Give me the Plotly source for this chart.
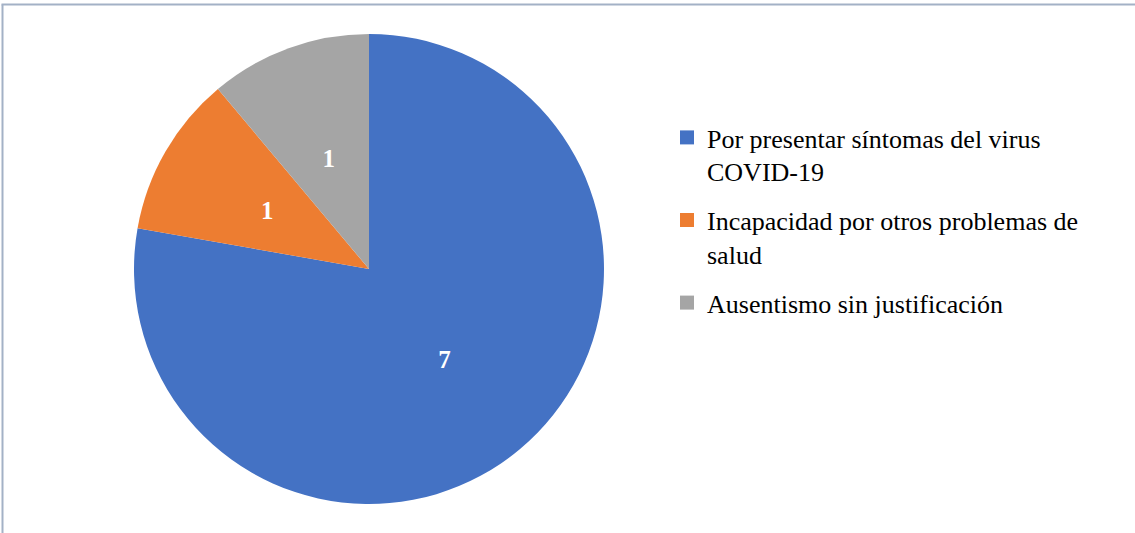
import plotly.graph_objects as go

labels = ["Por presentar síntomas del virus<br>COVID-19",
          "Incapacidad por otros problemas de<br>salud",
          "Ausentismo sin justificación"]
values = [7, 1, 1]
colors = ["#4472C4", "#ED7D31", "#A5A5A5"]

W, H = 1135, 533
cx, cy, R = 369, 269, 235
fig = go.Figure()
# main pie (label of the big slice)
fig.add_trace(go.Pie(
    labels=labels, values=values, sort=False, direction="clockwise", rotation=0,
    marker=dict(colors=colors, line=dict(width=0)),
    texttemplate=["<b>%{value}</b>", "", ""], textposition="inside",
    insidetextorientation="horizontal",
    textfont=dict(family="Liberation Serif", size=25, color="white"),
    domain=dict(x=[(cx - R) / W, (cx + R) / W], y=[1 - (cy + R) / H, 1 - (cy - R) / H]),
    hoverinfo="label+value", showlegend=False,
))
# transparent overlay pie carrying the labels of the small slices
r2 = R * 0.671
fig.add_trace(go.Pie(
    labels=labels, values=values, sort=False, direction="clockwise", rotation=0,
    marker=dict(colors=["rgba(0,0,0,0)"] * 3, line=dict(width=0)),
    texttemplate=["", "<b>%{value}</b>", "<b>%{value}</b>"], textposition="inside",
    insidetextorientation="horizontal",
    textfont=dict(family="Liberation Serif", size=25, color="white"),
    domain=dict(x=[(cx - r2) / W, (cx + r2) / W], y=[1 - (cy + r2) / H, 1 - (cy - r2) / H]),
    hoverinfo="skip", showlegend=False,
))
# legend entries
for lab, col in zip(labels, colors):
    fig.add_trace(go.Scatter(
        x=[None], y=[None], mode="markers", name=lab, legendgroup=lab,
        marker=dict(symbol="square", size=14, color=col), hoverinfo="skip",
    ))
fig.update_layout(
    width=W, height=H, margin=dict(l=0, r=0, t=0, b=0),
    paper_bgcolor="white", plot_bgcolor="white",
    showlegend=True,
    xaxis=dict(visible=False), yaxis=dict(visible=False),
    legend=dict(x=667 / W, y=1 - 114 / H, xanchor="left", yanchor="top",
                font=dict(family="Liberation Serif", size=26, color="#000000"),
                valign="top", itemwidth=30, tracegroupgap=12,
                traceorder="grouped"),
    shapes=[
        dict(type="line", xref="paper", yref="paper", x0=2.5 / W, x1=2.5 / W,
             y0=0, y1=1 - 4.5 / H, line=dict(color="#A3B1C6", width=2)),
        dict(type="line", xref="paper", yref="paper", x0=1.5 / W, x1=1,
             y0=1 - 4.5 / H, y1=1 - 4.5 / H, line=dict(color="#A3B1C6", width=2)),
    ],
)
fig.write_html("out.html")
